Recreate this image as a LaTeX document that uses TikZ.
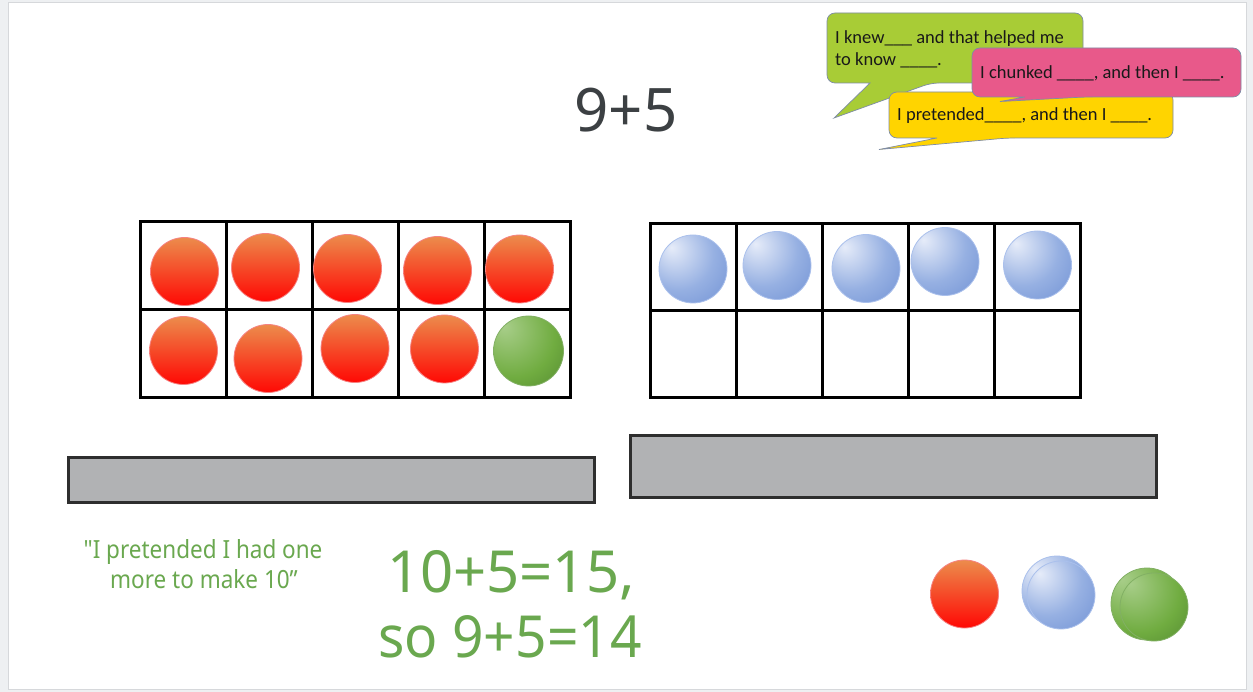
\documentclass[tikz,border=0pt]{standalone}
\usepackage{fontspec}
\setmainfont{Noto Sans}
\newfontfamily\bubblefont{Carlito}
\newfontfamily\condfont[FakeStretch=0.9]{Noto Sans}
\newfontfamily\narrowfont[FakeStretch=0.95]{Noto Sans}
\definecolor{pageedge}{HTML}{EEF0F2}
\definecolor{framegray}{HTML}{D6D8DB}
\definecolor{titlegray}{HTML}{3C4043}
\definecolor{txtgreen}{HTML}{6AA84F}
\definecolor{barfill}{HTML}{B1B2B4}
\definecolor{barline}{HTML}{2E2E2E}
\definecolor{bgreen}{HTML}{A8CC36}
\definecolor{bpink}{HTML}{E8598A}
\definecolor{byellow}{HTML}{FFD400}
\definecolor{bubbleline}{HTML}{7E8CA6}
\definecolor{redtop}{RGB}{236,140,76}
\definecolor{redmid}{RGB}{244,78,38}
\definecolor{redbot}{RGB}{255,8,4}
\definecolor{redrim}{RGB}{246,130,130}
\definecolor{bluehi}{RGB}{230,236,249}
\definecolor{bluemid}{RGB}{150,176,226}
\definecolor{bluelo}{RGB}{96,132,206}
\definecolor{bluerim}{RGB}{170,192,236}
\definecolor{greenhi}{RGB}{168,206,138}
\definecolor{greenmid}{RGB}{112,172,64}
\definecolor{greenlo}{RGB}{62,112,38}
\definecolor{greenrim}{RGB}{130,176,100}
\pgfdeclareradialshading{bluecounter}{\pgfpoint{-16bp}{16bp}}{color(0bp)=(bluehi); color(26bp)=(bluemid); color(56bp)=(bluelo); color(80bp)=(bluelo)}
\pgfdeclareradialshading{greencounter}{\pgfpoint{-18bp}{18bp}}{color(0bp)=(greenhi); color(30bp)=(greenmid); color(62bp)=(greenlo); color(80bp)=(greenlo)}
\tikzset{
  framegrid/.style={draw=black, line width=3pt},
  redc/.style={top color=redtop, middle color=redmid, bottom color=redbot},
  bluec/.style={shading=bluecounter},
  greenc/.style={shading=greencounter},
  rimred/.style={draw=redrim, line width=0.8pt},
  rimblue/.style={draw=bluerim, line width=0.8pt},
  rimgreen/.style={draw=greenrim, line width=0.8pt},
  graybar/.style={fill=barfill, draw=barline, line width=3pt},
  bubble/.style={draw=bubbleline, line width=0.7pt},
  bubbletext/.style={anchor=base west, inner sep=0pt, font=\bubblefont\fontsize{18.5}{22}\selectfont, text=black!90},
  bigtext/.style={anchor=base, inner sep=0pt, font=\fontsize{58}{66}\selectfont},
  smalltext/.style={anchor=base, inner sep=0pt, text=txtgreen, font=\condfont\fontsize{25}{30}\selectfont},
}
\begin{document}
\begin{tikzpicture}[x=1pt,y=-1pt]
\useasboundingbox (0,0) rectangle (1253,692);
\fill[pageedge] (0,0) rectangle (1253,692);
\filldraw[fill=white, draw=framegray, line width=1pt] (8,3) rectangle (1246,689);

% left ten frame
\draw[framegrid] (140,222) rectangle (570,398);
\draw[framegrid] (140,310) -- (570,310);
\foreach \x in {226,312,398,484} \draw[framegrid] (\x,222) -- (\x,398);
% right ten frame
\draw[framegrid] (650,224) rectangle (1080,398);
\draw[framegrid] (650,311) -- (1080,311);
\foreach \x in {736,822,908,994} \draw[framegrid] (\x,224) -- (\x,398);

% red counters
\foreach \cx/\cy in {184.5/271.5, 265.5/267.5, 347.5/268.5, 437.5/270.5, 519.5/269,
                     183.5/350.5, 268/358.5, 355/348.5, 444.5/349}{
  \shade[redc] (\cx,\cy) circle[radius=34];
  \draw[rimred] (\cx,\cy) circle[radius=34];
}
% green counter in frame
\shade[greenc] (528.5,351) circle[radius=35];
\draw[rimgreen] (528.5,351) circle[radius=35];
% blue counters
\foreach \cx/\cy in {693/269, 777/265.5, 866/268.5, 945/261.5, 1037.5/265}{
  \shade[bluec] (\cx,\cy) circle[radius=34];
  \draw[rimblue] (\cx,\cy) circle[radius=34];
}

% gray bars
\draw[graybar] (68,457) rectangle (594,502);
\draw[graybar] (630,435) rectangle (1156,497);

% title
\node[bigtext, text=titlegray, font=\fontsize{60}{66}\selectfont] (title) at (626,132) {9+5};

% green texts
\node[smalltext] (quote1) at (203,558) {"I pretended I had one};
\node[smalltext] (quote2) at (204,588) {more to make 10”};
\node[bigtext, text=txtgreen] (eq1) at (511,592) {10+5=15,};
\node[bigtext, text=txtgreen, font=\narrowfont\fontsize{58}{66}\selectfont] (eq2) at (510,657) {so 9+5=14};

% legend counters
\shade[redc] (964.5,594) circle[radius=34];
\draw[rimred] (964.5,594) circle[radius=34];
\shade[bluec] (1057,591) circle[radius=35];
\draw[rimblue] (1057,591) circle[radius=35];
\shade[bluec] (1061,595) circle[radius=34];
\draw[rimblue] (1061,595) circle[radius=34];
\shade[greenc] (1147,604) circle[radius=36];
\draw[rimgreen] (1147,604) circle[radius=36];
\shade[greenc] (1154,607) circle[radius=34];
\draw[rimgreen] (1154,607) circle[radius=34];

% speech bubbles
\filldraw[bubble, fill=bgreen] (931,83) -- (834,118) -- (870,83) [rounded corners=8] -- (827,83) -- (827,13) -- (1083,13) -- (1083,83) -- cycle;
\node[bubbletext] (knew1) at (835,43.5) {I knew\_\_\_ and that helped me};
\node[bubbletext] (knew2) at (835,66) {to know \_\_\_\_.};
\filldraw[bubble, fill=byellow] (1007,138) -- (879,149.5) -- (937,138) [rounded corners=8] -- (889,138) -- (889,92) -- (1173,92) -- (1173,138) -- cycle;
\node[bubbletext] (pret) at (897,121) {I pretended\_\_\_\_, and then I \_\_\_\_.};
\filldraw[bubble, fill=bpink] (1085,97) -- (1000,101.5) -- (1025,97) [rounded corners=8] -- (972,97) -- (972,48) -- (1241,48) -- (1241,97) -- cycle;
\node[bubbletext] (chunk) at (980,78.5) {I chunked \_\_\_\_, and then I \_\_\_\_.};
\end{tikzpicture}
\end{document}
